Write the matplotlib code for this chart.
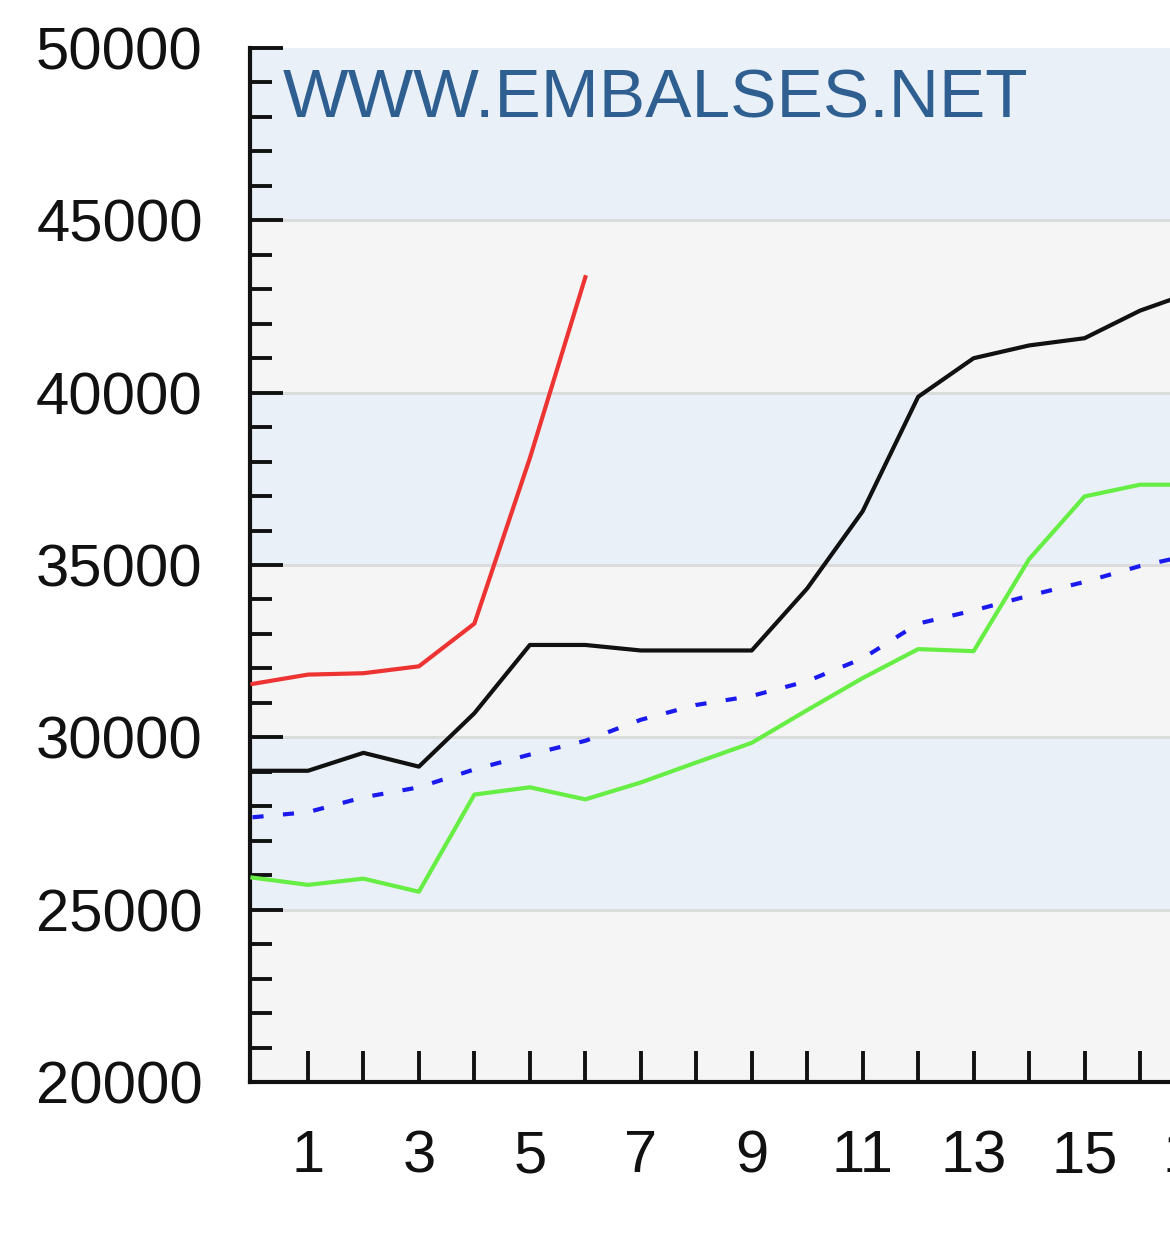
import matplotlib
matplotlib.use("Agg")
import matplotlib.pyplot as plt
import matplotlib.transforms as mtransforms
import numpy as np

plt.rcParams['lines.scale_dashes'] = False

# Data (weekly values)
weeks_red = [0, 1, 2, 3, 4, 5, 6]
red = [31550, 31820, 31860, 32060, 33300, 38100, 43350]

weeks = list(range(0, 18))
black = [29030, 29030, 29550, 29150, 30700, 32680, 32680, 32520, 32520, 32520,
         34320, 36560, 39880, 41000, 41370, 41580, 42380, 42950]
green = [25930, 25720, 25900, 25520, 28340, 28550, 28200, 28690, 29270, 29840,
         30790, 31720, 32560, 32500, 35170, 36990, 37330, 37330]
blue = [27680, 27830, 28260, 28550, 29070, 29500, 29900, 30510, 30940, 31200,
        31630, 32290, 33300, 33680, 34110, 34510, 34970, 35320]

x_ticks = list(range(1, 18))
x_labels = [str(t) if t % 2 == 1 else "" for t in x_ticks]
y_major = [20000, 25000, 30000, 35000, 40000, 45000, 50000]
y_labels = [str(v) for v in y_major]
y_minor = list(range(20000, 50001, 1000))
watermark = "WWW.EMBALSES.NET"

W, H = 1170, 1247
fig = plt.figure(figsize=(W / 100, H / 100), dpi=100)
left_px, right_px, top_px, bottom_px = 250, 1170, 48, 1082
ax = fig.add_axes([left_px / W, 1 - bottom_px / H, (right_px - left_px) / W, (bottom_px - top_px) / H])

# alternating bands
band_colors = ['#f5f5f5', '#e9f0f8']
for i in range(len(y_major) - 1):
    ax.axhspan(y_major[i], y_major[i + 1], color=band_colors[i % 2], lw=0, zorder=0)
for v in y_major[1:-1]:
    ax.axhline(v, color='#dcdcdc', lw=2.2, zorder=1)

ax.plot(weeks, green, color='#66ee44', lw=3.0, zorder=3)
ax.plot(weeks, blue, color='#1a1aee', lw=3.0, zorder=3, dashes=(8, 14))
ax.plot(weeks, black, color='#111111', lw=3.0, zorder=4)
ax.plot(weeks_red, red, color='#ee3333', lw=3.0, zorder=5)

ax.set_xticks(x_ticks)
ax.set_xticklabels(x_labels)
ax.set_yticks(y_major)
ax.set_yticklabels(y_labels)
ax.set_yticks(y_minor, minor=True)

ax.set_xlim(-0.045, 16.54)
ax.set_ylim(20000, 50000)

for s in ['top', 'right']:
    ax.spines[s].set_visible(False)
for s in ['left', 'bottom']:
    ax.spines[s].set_linewidth(3)
    ax.spines[s].set_color('#111111')

ax.tick_params(axis='y', which='major', direction='in', length=24, width=2.8,
               labelsize=43, pad=34, colors='#111111')
ax.tick_params(axis='y', which='minor', direction='in', length=16, width=2.8, colors='#111111')
ax.tick_params(axis='x', which='major', direction='in', length=22, width=2.8,
               labelsize=43, pad=34, colors='#111111')
for lab in ax.get_xticklabels() + ax.get_yticklabels():
    lab.set_fontfamily('Liberation Sans')

# tick label of the week that lies just beyond the right edge (partly visible)
last = [t for t, l in zip(x_ticks, x_labels) if l and t > 16.54]
base = mtransforms.blended_transform_factory(ax.transData, ax.transAxes)
for t in last:
    ax.text(t, 0, str(t), transform=mtransforms.offset_copy(base, fig=fig, y=-34, units='points'),
            ha='center', va='top', fontsize=43, family='Liberation Sans',
            color='#111111', clip_on=False)

fig.text(283 / W, 1 - 118 / H, watermark, color='#2f5f90', fontsize=50,
         family='Liberation Sans', va='baseline', ha='left')

fig.savefig('out.png', dpi=100, facecolor='white')
